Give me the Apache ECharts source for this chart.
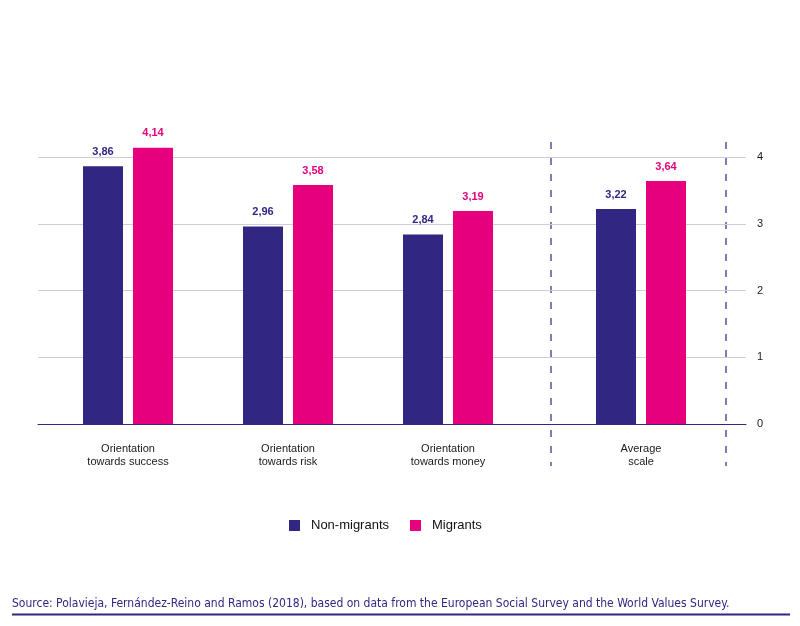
<!DOCTYPE html>
<html>
<head>
<meta charset="utf-8">
<style>html,body{margin:0;padding:0;background:#fff}#c{width:800px;height:626px}</style>
<script src="https://cdn.jsdelivr.net/npm/echarts@6/dist/echarts.min.js"></script>
</head>
<body>
<div id="c"></div>
<script>
var categories = ['Orientation\ntowards success', 'Orientation\ntowards risk', 'Orientation\ntowards money'];
var avgCategory = ['Average\nscale'];
var nonMigrants = [3.86, 2.96, 2.84];
var migrants = [4.14, 3.58, 3.19];
var avgNonMigrants = [3.22];
var avgMigrants = [3.64];
var seriesNames = ['Non-migrants', 'Migrants'];
var sourceText = 'Source: Polavieja, Fernández-Reino and Ramos (2018), based on data from the European Social Survey and the World Values Survey.';

var BLUE = '#312783', PINK = '#e6007e';
var FONT = '"Liberation Sans", Arial, sans-serif';
function fmt(p) { return p.value.toFixed(2).replace('.', ','); }
function barSeries(name, data, color, idx) {
  return {
    name: name, type: 'bar', data: data, xAxisIndex: idx, yAxisIndex: idx,
    barWidth: 40, barGap: '25%',
    itemStyle: { color: color },
    label: { show: true, position: 'top', distance: 9, formatter: fmt,
      color: color, fontWeight: 'bold', fontSize: 11, fontFamily: FONT }
  };
}
var chart = echarts.init(document.getElementById('c'));
var catAxisBase = {
  type: 'category', axisLine: { show: false }, axisTick: { show: false },
  axisLabel: { color: '#1a1a1a', fontSize: 11, lineHeight: 13, margin: 18, fontFamily: FONT },
  splitLine: { show: false }
};
chart.setOption({
  animation: false,
  grid: [
    { left: 48, width: 480, top: 90.25, bottom: 202 },
    { left: 551, width: 180, top: 90.25, bottom: 202 },
    { left: 38, right: 54, top: 157, bottom: 202 }
  ],
  xAxis: [
    Object.assign({ gridIndex: 0, data: categories }, catAxisBase),
    Object.assign({ gridIndex: 1, data: avgCategory }, catAxisBase),
    { gridIndex: 2, type: 'category', data: [''], axisLine: { show: true, lineStyle: { color: BLUE, width: 1 } },
      axisTick: { show: false }, axisLabel: { show: false } }
  ],
  yAxis: [
    { gridIndex: 0, type: 'value', min: 0, max: 5, show: false },
    { gridIndex: 1, type: 'value', min: 0, max: 5, show: false },
    { gridIndex: 2, type: 'value', min: 0, max: 4, interval: 1, position: 'right',
      axisLine: { show: false }, axisTick: { show: false },
      axisLabel: { color: '#1a1a1a', fontSize: 11, margin: 11, fontFamily: FONT },
      splitLine: { show: true, lineStyle: { color: '#cfcce0', width: 1 } } }
  ],
  legend: {
    data: seriesNames, top: 519, left: 289, padding: 0, icon: 'rect', itemWidth: 11, itemHeight: 11,
    itemGap: 21, textStyle: { fontSize: 13, color: '#111', fontFamily: FONT, padding: [0, 0, 0, 6] }
  },
  series: [
    barSeries(seriesNames[0], nonMigrants, BLUE, 0),
    barSeries(seriesNames[1], migrants, PINK, 0),
    barSeries(seriesNames[0], avgNonMigrants, BLUE, 1),
    barSeries(seriesNames[1], avgMigrants, PINK, 1)
  ],
  graphic: [
    { type: 'line', shape: { x1: 551, y1: 142, x2: 551, y2: 466 }, style: { stroke: '#5a4f9e', lineWidth: 1.5, lineDash: [7, 9] } },
    { type: 'line', shape: { x1: 726, y1: 142, x2: 726, y2: 466 }, style: { stroke: '#5a4f9e', lineWidth: 1.5, lineDash: [7, 9] } },
    { type: 'text', left: 12, top: 598, style: { text: sourceText, fill: BLUE, font: '12px "DejaVu Sans Condensed", sans-serif' } },
    { type: 'line', shape: { x1: 12, y1: 614.5, x2: 790, y2: 614.5 }, style: { stroke: BLUE, lineWidth: 2 } }
  ]
});
</script>
</body>
</html>
